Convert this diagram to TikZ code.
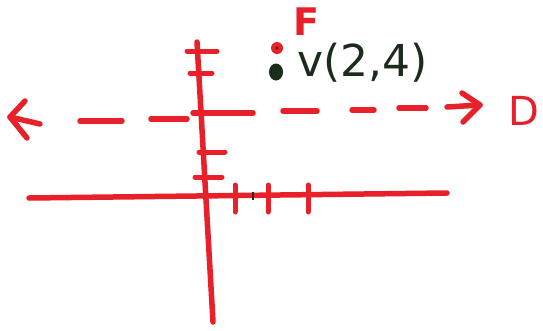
\documentclass[tikz,border=0pt]{standalone}
\usepackage{fontspec}
\setmainfont{DejaVu Sans}
\usetikzlibrary{positioning}
\definecolor{penRed}{HTML}{E8202A}
\definecolor{penDark}{HTML}{1C2C1C}
\tikzset{
  penline/.style={draw=penRed, line width=5.5pt, line cap=round, line join=round},
  pentick/.style={penline, line width=5pt},
  penlabel/.style={text=penRed, inner sep=0pt, font=\fontsize{40}{40}\selectfont},
  vertlabel/.style={text=penDark, inner sep=0pt, anchor=west, font=\fontsize{44}{44}\selectfont},
  pendot/.style={circle, inner sep=0pt}
}
\begin{document}
\begin{tikzpicture}[x=1pt,y=-1pt]
\useasboundingbox[fill=white] (0,0) rectangle (543,330);
% axes
\coordinate (xleft) at (29,198);
\coordinate (xright) at (447,193);
\coordinate (ytop) at (197,42);
\coordinate (ybot) at (213,322);
\draw[penline] (xleft) -- (xright);
\draw[penline] (ytop) -- (ybot);
% ticks
\foreach \y/\a/\b in {51/187/217, 73/190/212, 152/199/225, 177/195/222}
  \draw[pentick] (\a,\y) -- (\b,\y);
\foreach \x in {235,268,308}
  \draw[pentick] (\x,185) -- (\x,212);
\draw[penDark, line width=2pt] (253,192) -- (253,200);
% directrix
\coordinate (ltip) at (10,117);
\draw[penline] (25,101) -- (ltip) -- (27,138);
\draw[penline] (ltip) -- (40,124);
\foreach \a/\b/\y in {80/122/121, 151/187/119, 193/253/113, 283/317/111, 352/374/110, 399/426/108}
  \draw[penline] (\a,\y) -- (\b,\y);
\coordinate (rtip) at (480,105);
\draw[penline] (447,107) -- (rtip);
\draw[penline] (462,93) -- (rtip) -- (463,122);
\node[penlabel] (dlab) at (524,111) {D};
% focus and vertex
\node[pendot, fill=penRed, minimum size=12pt] (focus) at (277,48) {};
\fill[penDark] (focus) circle (1.5pt);
\node[penlabel, font=\fontsize{38}{38}\selectfont\bfseries] (flab) at (306,22) {F};
\fill[penDark] (276,72) ellipse (7pt and 8.5pt);
\node[vertlabel] (vlab) at (297,63) {v(2,4)};
\end{tikzpicture}
\end{document}
